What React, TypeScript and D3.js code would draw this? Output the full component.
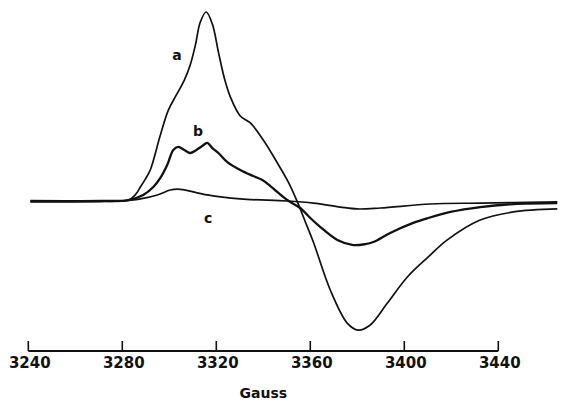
import React from "react";
import * as d3 from "d3";

// Gauss values and relative intensity for each trace
const gaussA = [3240.9, 3270.6, 3282.6, 3285.5, 3287.7, 3289.8, 3291.9, 3296.2, 3299.6, 3303.0, 3306.4, 3308.9, 3311.1, 3313.2, 3315.7, 3318.3, 3320.9, 3323.4, 3326.0, 3330.2, 3334.5, 3340.0, 3346.0, 3350.6, 3354.5, 3357.9, 3361.3, 3368.5, 3375.7, 3380.4, 3385.5, 3392.8, 3401.3, 3410.2, 3418.3, 3432.3, 3446.4, 3465.1];
const valueA = [0, 0, 0.5, 3.2, 7.4, 11.6, 16.4, 34.9, 48.1, 56.1, 64.0, 72.0, 82.5, 94.7, 100, 93.7, 78.8, 65.1, 55.0, 45.0, 41.3, 32.3, 20.1, 10.1, -0.5, -11.1, -21.7, -47.1, -64.6, -68.3, -65.6, -54.0, -40.2, -29.6, -20.6, -10.1, -5.8, -4.2];

const gaussB = [3240.9, 3270.6, 3282.6, 3288.9, 3293.2, 3296.2, 3299.1, 3301.7, 3303.8, 3306.4, 3308.9, 3311.5, 3314.0, 3316.2, 3318.3, 3320.9, 3324.7, 3330.2, 3335.7, 3339.6, 3343.0, 3350.2, 3355.7, 3360.0, 3364.3, 3371.5, 3378.3, 3383.4, 3386.8, 3394.0, 3403.8, 3410.2, 3419.6, 3432.3, 3446.4, 3465.1];
const valueB = [0, 0, 0.5, 3.2, 7.4, 12.2, 19.0, 27.0, 28.6, 27.0, 25.4, 27.0, 29.1, 30.7, 28.0, 25.4, 20.6, 16.4, 13.2, 11.1, 7.9, 0.5, -3.7, -9.0, -13.8, -20.6, -23.3, -22.8, -21.7, -16.9, -11.6, -9.0, -5.8, -3.2, -1.6, -1.1];

const gaussC = [3240.9, 3279.1, 3287.7, 3294.9, 3300.4, 3303.4, 3306.8, 3316.2, 3330.2, 3350.2, 3361.3, 3372.8, 3380.0, 3389.8, 3411.1, 3432.3, 3465.1];
const valueC = [-0.5, 0, 1.1, 3.2, 5.8, 6.3, 5.8, 3.2, 1.1, 0, -1.1, -3.2, -4.2, -3.7, -1.6, -1.1, -0.5];

const tickValues = [3240, 3280, 3320, 3360, 3400, 3440];
const seriesLabels = [
  { name: "a", gauss: 3303.3, value: 74.6 },
  { name: "b", gauss: 3312.2, value: 34.4 },
  { name: "c", gauss: 3316.5, value: -11.6 },
];
const axisTitle = "Gauss";

const W = 584;
const H = 403;

export default function App() {
  const x = d3.scaleLinear().domain([3240, 3440]).range([28.3, 498.3]);
  const y = d3.scaleLinear().domain([-100, 100]).range([390, 12]);
  const line = d3
    .line<[number, number]>()
    .x((d) => x(d[0]))
    .y((d) => y(d[1]))
    .curve(d3.curveCatmullRom.alpha(0.5));

  const mk = (g: number[], v: number[]) => g.map((gg, i) => [gg, v[i]] as [number, number]);
  const series = [
    { d: mk(gaussA, valueA), w: 1.7 },
    { d: mk(gaussB, valueB), w: 2.3 },
    { d: mk(gaussC, valueC), w: 1.7 },
  ];
  const axisY = 351;
  const font = "DejaVu Sans, sans-serif";

  return (
    <svg
      width={W}
      height={H}
      style={{ position: "absolute", left: 0, top: 0, background: "#fff" }}
    >
      <rect width={W} height={H} fill="#fff" />
      {series.map((s, i) => (
        <path key={i} d={line(s.d) || ""} fill="none" stroke="#111" strokeWidth={s.w} strokeLinejoin="round" />
      ))}
      <line x1={x(3240)} x2={x(3440)} y1={axisY} y2={axisY} stroke="#111" strokeWidth={1.8} />
      {tickValues.map((t) => (
        <g key={t}>
          <line x1={x(t)} x2={x(t)} y1={axisY} y2={axisY - 10} stroke="#111" strokeWidth={1.6} />
          <text x={x(t) + 1.5} y={368} textAnchor="middle" fontFamily={font} fontWeight="bold" fontSize={15} fill="#111">
            {t}
          </text>
        </g>
      ))}
      <text x={x(3340)} y={398} textAnchor="middle" fontFamily={font} fontWeight="bold" fontSize={14} fill="#111">
        {axisTitle}
      </text>
      {seriesLabels.map((l) => (
        <text key={l.name} x={x(l.gauss)} y={y(l.value)} textAnchor="middle" fontFamily={font} fontWeight="bold" fontSize={14} fill="#111">
          {l.name}
        </text>
      ))}
    </svg>
  );
}
